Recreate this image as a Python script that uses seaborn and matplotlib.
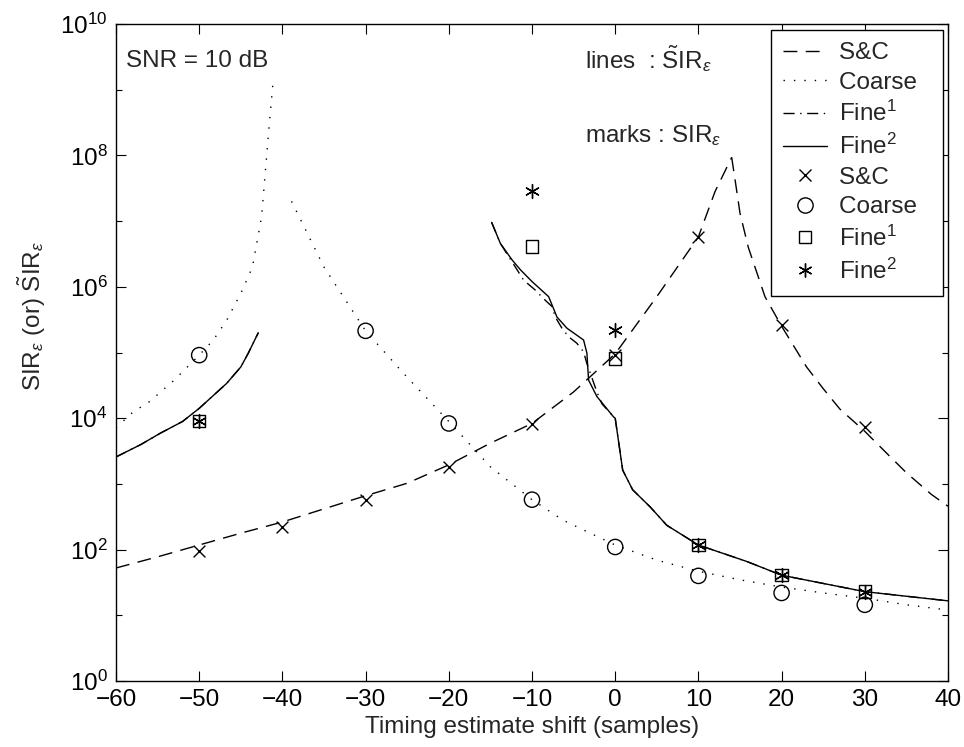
import numpy as np
import pandas as pd
import matplotlib
matplotlib.use("Agg")
import matplotlib.pyplot as plt
import seaborn as sns
from matplotlib.lines import Line2D
from matplotlib.ticker import FixedLocator, NullFormatter, FuncFormatter, NullLocator

sns.set_style("ticks")
plt.rcParams['font.family'] = ['Liberation Sans', 'DejaVu Sans']
plt.rcParams['mathtext.fontset'] = 'custom'
plt.rcParams['mathtext.rm'] = 'Liberation Sans'
plt.rcParams['mathtext.it'] = 'Liberation Sans:italic'
plt.rcParams['mathtext.bf'] = 'Liberation Sans:bold'

# ---------------- data (values given as log10 of SIR) ----------------
# S&C approximation line (two branches around the peak)
sc_left_x = [-60, -55, -50, -45, -40, -35, -30, -25, -20, -15, -10, -5, 0, 5, 10, 12, 14]
sc_left_log = [1.72, 1.89, 2.07, 2.25, 2.42, 2.62, 2.82, 3.01, 3.29, 3.62, 3.92, 4.40, 4.98, 5.85, 6.76, 7.45, 7.97]
sc_right_x = [14, 14.5, 15, 16, 18, 20, 23, 25, 27, 30, 33, 35, 38, 40]
sc_right_log = [7.97, 7.55, 7.12, 6.60, 5.85, 5.40, 4.78, 4.45, 4.14, 3.80, 3.42, 3.17, 2.84, 2.66]

# Coarse approximation line
co_left_x = [-60, -58, -56, -53, -50, -48.3, -46.7, -45, -43.6, -42.5, -42, -41.6, -41.1]
co_left_log = [3.85, 4.09, 4.25, 4.58, 4.96, 5.19, 5.49, 5.90, 6.30, 7.07, 7.83, 8.44, 9.15]
co_right_x = [-38.9, -35, -30, -25.5, -20, -15, -10, -6.3, -3, 0, 5, 10, 15, 20, 25, 30, 35, 40]
co_right_log = [7.30, 6.30, 5.33, 4.69, 3.95, 3.26, 2.76, 2.45, 2.25, 2.07, 1.84, 1.67, 1.54, 1.43, 1.34, 1.26, 1.16, 1.08]

# Fine^1 / Fine^2 approximation lines
f_left_x = [-60, -57, -54.7, -52, -50, -46.7, -45, -44.1, -42.9]
f_left_log = [3.41, 3.60, 3.77, 3.95, 4.15, 4.53, 4.78, 4.99, 5.30]

f2_right_x = [-14.85, -13.8, -12.4, -11.4, -10, -8, -7, -5.8, -3.8, -3.4, -3.2, -2.2, -0.2, 0,
              0.9, 2.1, 4.2, 6.2, 10, 15.8, 20, 30, 40]
f2_right_log = [6.98, 6.66, 6.41, 6.26, 6.08, 5.85, 5.54, 5.37, 5.19, 4.99, 4.58, 4.33, 4.02, 4.00,
                3.21, 2.91, 2.65, 2.37, 2.07, 1.82, 1.61, 1.36, 1.22]

f1_right_x = [-14.85, -13.8, -12.4, -11, -9.6, -8.7, -7.6, -7.2, -6.4, -5.6, -4.6, -3.8, -3.4, -2.2,
              -1.6, -0.4, 0, 0.9, 2.1, 4.2, 6.2, 10, 15.8, 20, 30, 40]
f1_right_log = [6.98, 6.66, 6.38, 6.10, 5.95, 5.83, 5.70, 5.54, 5.37, 5.24, 5.14, 5.01, 4.83, 4.40,
                4.22, 4.05, 4.00, 3.21, 2.91, 2.65, 2.37, 2.07, 1.82, 1.61, 1.36, 1.22]

# simulated marks
sc_mark_x = [-50, -40, -30, -20, -10, 0, 10, 20, 30]
sc_mark_log = [1.98, 2.35, 2.75, 3.25, 3.91, 4.96, 6.76, 5.42, 3.86]
co_mark_x = [-50, -30, -20, -10, 0, 10, 20, 30]
co_mark_log = [4.96, 5.33, 3.92, 2.76, 2.04, 1.60, 1.34, 1.16]
f1_mark_x = [-50, -10, 0, 10, 20, 30]
f1_mark_log = [3.96, 6.61, 4.91, 2.07, 1.61, 1.36]
f2_mark_x = [-50, -10, 0, 10, 20, 30]
f2_mark_log = [3.96, 7.46, 5.34, 2.07, 1.61, 1.36]

x_ticks = [-60, -50, -40, -30, -20, -10, 0, 10, 20, 30, 40]
y_major_exp = [0, 2, 4, 6, 8, 10]
y_minor_exp = [1, 3, 5, 7, 9]

# ---------------- styles ----------------
FS = 17.5
LW = 1.0
ls_sc = (0, (10, 6))
ls_co = (0, (1, 6.5))
ls_f1 = (0, (8, 4, 1, 4))
ls_f2 = '-'
asterisk = (6, 2, 0)

fig = plt.figure(figsize=(9.64, 7.47), dpi=100)
ax = fig.add_axes([116 / 964, 1 - 681 / 747, 832 / 964, 657 / 747])


def seg(xs, logs, ls):
    df = pd.DataFrame({"x": xs, "y": 10.0 ** np.asarray(logs)})
    sns.lineplot(data=df, x="x", y="y", sort=False, estimator=None, color="black",
                 linewidth=LW, linestyle=ls, ax=ax, legend=False)


seg(sc_left_x, sc_left_log, ls_sc)
seg(sc_right_x, sc_right_log, ls_sc)
seg(co_left_x, co_left_log, ls_co)
seg(co_right_x, co_right_log, ls_co)
seg(f_left_x, f_left_log, ls_f1)
seg(f1_right_x, f1_right_log, ls_f1)
seg(f_left_x, f_left_log, ls_f2)
seg(f2_right_x, f2_right_log, ls_f2)


def marks(xs, logs, marker, size, filled_line):
    df = pd.DataFrame({"x": xs, "y": 10.0 ** np.asarray(logs)})
    if filled_line:
        sns.scatterplot(data=df, x="x", y="y", marker=marker, s=size ** 2, color="black",
                        linewidth=1.0, ax=ax, legend=False, zorder=3)
    else:
        sns.scatterplot(data=df, x="x", y="y", marker=marker, s=size ** 2, facecolors="none",
                        edgecolor="black", linewidth=1.0, ax=ax, legend=False, zorder=3)


marks(sc_mark_x, sc_mark_log, "x", 8.5, True)
marks(co_mark_x, co_mark_log, "o", 11, False)
marks(f1_mark_x, f1_mark_log, "s", 9, False)
marks(f2_mark_x, f2_mark_log, asterisk, 10, True)

ax.set_yscale("log")
ax.set_xlim(-60, 40)
ax.set_ylim(1, 1e10)
ax.xaxis.set_major_locator(FixedLocator(x_ticks))
ax.xaxis.set_minor_locator(NullLocator())
ax.yaxis.set_major_locator(FixedLocator([10.0 ** e for e in y_major_exp]))
ax.yaxis.set_minor_locator(FixedLocator([10.0 ** e for e in y_minor_exp]))
ax.yaxis.set_minor_formatter(NullFormatter())
ax.yaxis.set_major_formatter(FuncFormatter(lambda v, p: r"$10^{%d}$" % int(round(np.log10(v)))))

ax.tick_params(which="both", direction="in", top=True, right=True, width=0.8, colors="black",
               labelsize=FS)
ax.tick_params(which="major", length=7, pad=6)
ax.tick_params(which="minor", length=4)
for s in ax.spines.values():
    s.set_color("black")
    s.set_linewidth(1.0)
    s.set_visible(True)

ax.set_xlabel("Timing estimate shift (samples)", fontsize=FS, labelpad=3)
ax.set_ylabel(r"$\mathrm{SIR}_{\varepsilon}$ (or) $\tilde{\mathrm{S}}\mathrm{IR}_{\varepsilon}$",
              fontsize=FS)
ax.yaxis.set_label_coords(-0.082, 0.556)

ax.text(0.012, 0.9346, "SNR = 10 dB", transform=ax.transAxes, fontsize=FS, va="baseline")
ax.text(0.5637, 0.933, r"lines  : $\tilde{\mathrm{S}}\mathrm{IR}_{\varepsilon}$",
        transform=ax.transAxes, fontsize=FS, va="baseline")
ax.text(0.5637, 0.820, r"marks : $\mathrm{SIR}_{\varepsilon}$",
        transform=ax.transAxes, fontsize=FS, va="baseline")

handles = [
    Line2D([], [], color="black", lw=LW, linestyle=ls_sc),
    Line2D([], [], color="black", lw=LW, linestyle=ls_co),
    Line2D([], [], color="black", lw=LW, linestyle=ls_f1),
    Line2D([], [], color="black", lw=LW, linestyle=ls_f2),
    Line2D([], [], color="black", lw=0, marker="x", markersize=8),
    Line2D([], [], color="black", lw=0, marker="o", markersize=11, markerfacecolor="none"),
    Line2D([], [], color="black", lw=0, marker="s", markersize=9, markerfacecolor="none"),
    Line2D([], [], color="black", lw=0, marker=asterisk, markersize=10),
]
labels = ["S&C  ", "Coarse  ", r"Fine$^1$  ", r"Fine$^2$  ",
          "S&C  ", "Coarse  ", r"Fine$^1$  ", r"Fine$^2$  "]
leg = ax.legend(handles, labels, loc="upper right", bbox_to_anchor=(0.994, 0.991),
                borderaxespad=0, fontsize=FS, handlelength=1.8, handletextpad=0.5,
                labelspacing=0.31, borderpad=0.5, frameon=True, fancybox=False,
                framealpha=1, edgecolor="black")
leg.get_frame().set_linewidth(1.0)

fig.savefig("out.png", dpi=100)
